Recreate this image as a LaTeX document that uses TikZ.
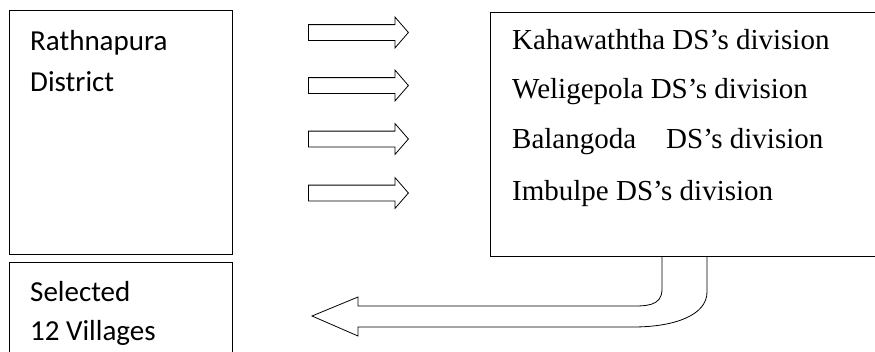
\documentclass[tikz,border=0pt]{standalone}
\usepackage{fontspec}
\setmainfont{Liberation Serif}
\newfontfamily\calibri{Carlito}
\usetikzlibrary{shapes.arrows,calc}

\tikzset{
  box/.style={draw,line width=1pt,anchor=north west,inner sep=0pt},
  leftlabel/.style={anchor=base west,inner sep=0pt,font=\calibri\fontsize{29}{32}\selectfont},
  divlabel/.style={anchor=base west,inner sep=0pt,font=\fontsize{29}{32}\selectfont},
  fatarrow/.style={single arrow,draw,line width=0.8pt,inner sep=0pt,text height=0pt,text depth=0pt,
    inner ysep=7.5pt,single arrow head extend=7.5pt,single arrow tip angle=98,
    minimum height=100pt,anchor=west}
}

\begin{document}
\begin{tikzpicture}[x=1pt,y=-1pt]
    % Frame
    \useasboundingbox (0,0) rectangle (875,351);

    % Left boxes
    \node[box,minimum width=223pt,minimum height=244pt] (district) at (9,10) {};
    \node[box,minimum width=223pt,minimum height=120pt] (villages) at (9,262) {};
    \node[leftlabel] (rathna) at (30,50) {Rathnapura};
    \node[leftlabel] (distr) at (30,91) {District};
    \node[leftlabel] (selected) at (30,301) {Selected};
    \node[leftlabel] (twelve) at (30,340) {12 Villages};

    % Small arrows
    \foreach \i/\y in {1/32.5,2/85.5,3/139,4/193}
      \node[fatarrow] (arr\i) at (308,\y) {};

    % Right box (runs off the right edge)
    \node[box,draw=none,minimum width=420pt,minimum height=243pt] (divbox) at (490,12) {};
    \draw[line width=1pt] (divbox.north east) -- (divbox.north west)
      -- (divbox.south west) -- (divbox.south east);
    \node[divlabel] (kaha) at (512,49) {Kahawaththa DS’s division};
    \node[divlabel] (weli) at (512,98) {Weligepola DS’s division};
    \node[divlabel] (bala) at (512,148) {Balangoda\hspace*{30pt}DS’s division};
    \node[divlabel] (imbu) at (512,200) {Imbulpe DS’s division};

    % Bent arrow back to the villages
    \coordinate (tip) at (312,316);
    \draw[line width=0.8pt,line join=miter]
      ($(divbox.south west)+(172,0)$) -- ++(0,33)
        .. controls ++(0,18) and (645,306) .. (628,306)
      -- ($(tip)+(46,-10)$) -- ($(tip)+(46,-19)$) -- (tip)
      -- ($(tip)+(46,20)$) -- ($(tip)+(46,11)$) -- (633,327)
        .. controls (675,327) and (707,315) .. (707,292)
      -- ($(divbox.south west)+(217,0)$);
  \end{tikzpicture}
\end{document}
